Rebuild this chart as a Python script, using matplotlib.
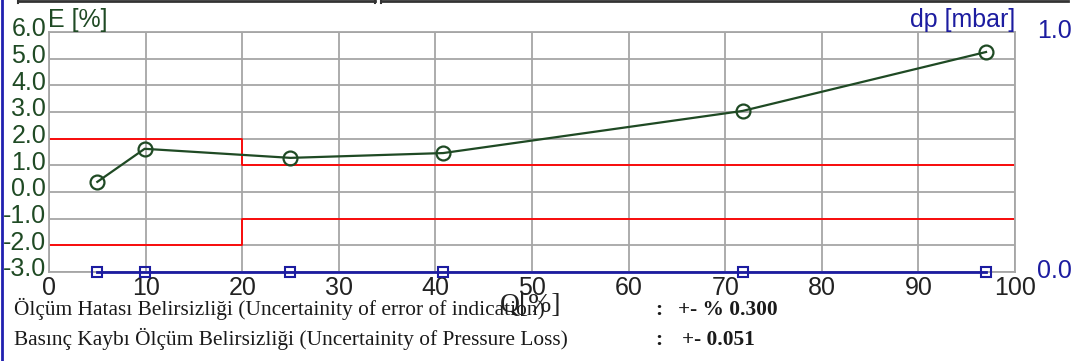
import matplotlib
matplotlib.use("Agg")
import matplotlib.pyplot as plt
from matplotlib.lines import Line2D
from matplotlib.transforms import ScaledTranslation

# Measurement points: flow rate Q [%], error E [%], pressure loss dp [mbar]
q_values = [5.0, 9.9, 25.0, 40.8, 71.8, 97.0]
e_values = [0.38, 1.62, 1.28, 1.46, 3.04, 5.25]
dp_values = [0.0, 0.0, 0.0, 0.0, 0.0, 0.0]

# Maximum permissible error limits (step at Q = 20 %)
limit_q = [0, 20, 20, 100]
limit_upper = [2.0, 2.0, 1.0, 1.0]
limit_lower = [-2.0, -2.0, -1.0, -1.0]

x_ticks = [0, 10, 20, 30, 40, 50, 60, 70, 80, 90, 100]
e_ticks = [6.0, 5.0, 4.0, 3.0, 2.0, 1.0, 0.0, -1.0, -2.0, -3.0]
dp_ticks = [0.0, 1.0]

uncertainty_rows = [
    ("Ölçüm Hatası Belirsizliği (Uncertainity of error of indication)", "+- % 0.300"),
    ("Basınç Kaybı Ölçüm Belirsizliği (Uncertainity of Pressure Loss)", "+- 0.051"),
]

GREEN = "#1f4a24"
BLUE = "#1c1ca0"
RED = "#ff0000"
GRID = "#a6a6a6"
TEXT = "#1a1a1a"
SANS = "Liberation Sans"
SERIF = "Liberation Serif"

fig = plt.figure(figsize=(10.75, 3.61), dpi=100)
W, H = 1075, 361
ax = fig.add_axes([49 / W, (H - 272) / H, (1015 - 49) / W, (272 - 32) / H])

ax.set_xlim(0, 100)
ax.set_ylim(-3, 6)
ax.set_xticks(x_ticks)
ax.set_yticks(e_ticks)
ax.set_xticklabels([str(t) for t in x_ticks], fontfamily=SANS, fontsize=18, color="#222222")
ax.set_yticklabels([f"{t:.1f}" for t in e_ticks], fontfamily=SANS, fontsize=18, color=GREEN)
ax.tick_params(axis="both", length=0)
ax.tick_params(axis="x", pad=3)
ax.tick_params(axis="y", pad=2)
ax.grid(True, color=GRID, linewidth=1.3)
ax.set_axisbelow(True)
for s in ax.spines.values():
    s.set_color(GRID)
    s.set_linewidth(1.3)

# Lift the E labels a little above their grid lines
lift = ScaledTranslation(0, 5 / 100, fig.dpi_scale_trans)
for lbl in ax.get_yticklabels():
    lbl.set_transform(lbl.get_transform() + lift)

# Limit lines
ax.plot(limit_q, limit_upper, color=RED, linewidth=1.3, zorder=2)
ax.plot(limit_q, limit_lower, color=RED, linewidth=1.3, zorder=2)

# Error curve
ax.plot(q_values, e_values, color=GREEN, linewidth=1.6, marker="o", markersize=10,
        markerfacecolor="none", markeredgecolor=GREEN, markeredgewidth=1.6, zorder=4)

# Pressure loss on the secondary axis
ax2 = ax.twinx()
ax2.set_ylim(0, 1)
ax2.set_yticks(dp_ticks)
ax2.set_yticklabels([f"{t:.1f}" for t in dp_ticks], fontfamily=SANS, fontsize=18, color=BLUE)
ax2.tick_params(axis="y", length=0, pad=16)
for s in ax2.spines.values():
    s.set_visible(False)
lift_r = ScaledTranslation(0, 3 / 100, fig.dpi_scale_trans)
for lbl in ax2.get_yticklabels():
    lbl.set_transform(lbl.get_transform() + lift_r)
ax2.plot(q_values, dp_values, color=BLUE, linewidth=2.0, marker="s", markersize=7,
         markerfacecolor="none", markeredgecolor=BLUE, markeredgewidth=1.5,
         clip_on=False, zorder=5)

# Axis titles
fig.text(48 / W, (H - 27) / H, "E [%]", fontfamily=SANS, fontsize=18, color=GREEN,
         ha="left", va="baseline")
fig.text(1015 / W, (H - 27) / H, "dp [mbar]", fontfamily=SANS, fontsize=18, color=BLUE,
         ha="right", va="baseline")
fig.text(500 / W, (H - 312) / H, "Q[%]", fontfamily=SERIF, fontsize=20, color="#222222",
         ha="left", va="baseline")

# Uncertainty statements
baselines = [315, 345]
value_x = [678, 682]
for (label, value), yb, vx in zip(uncertainty_rows, baselines, value_x):
    y = (H - yb) / H
    fig.text(14 / W, y, label, fontfamily=SERIF, fontsize=15.4, color=TEXT,
             ha="left", va="baseline")
    fig.text(655 / W, y, ":", fontfamily=SERIF, fontsize=15.4, color=TEXT,
             ha="left", va="baseline", fontweight="bold")
    fig.text(vx / W, y, value, fontfamily=SERIF, fontsize=15.4, color=TEXT,
             ha="left", va="baseline", fontweight="bold")

# Page framing: left border and the boxes above the chart
fig.add_artist(Line2D([2 / W, 2 / W], [0, 1], color="#2020b0", linewidth=2))
fig.add_artist(Line2D([18 / W, 375 / W], [(H - 1) / H] * 2, color="#333333", linewidth=2))
fig.add_artist(Line2D([375 / W, 375 / W], [(H - 3) / H, 1], color="#333333", linewidth=1.5))
fig.add_artist(Line2D([18 / W, 18 / W], [(H - 3) / H, 1], color="#333333", linewidth=1.5))
fig.add_artist(Line2D([381 / W, 1068 / W], [(H - 1) / H] * 2, color="#333333", linewidth=2))
fig.add_artist(Line2D([381 / W, 381 / W], [(H - 3) / H, 1], color="#333333", linewidth=1.5))

fig.savefig("out.png", dpi=100)
